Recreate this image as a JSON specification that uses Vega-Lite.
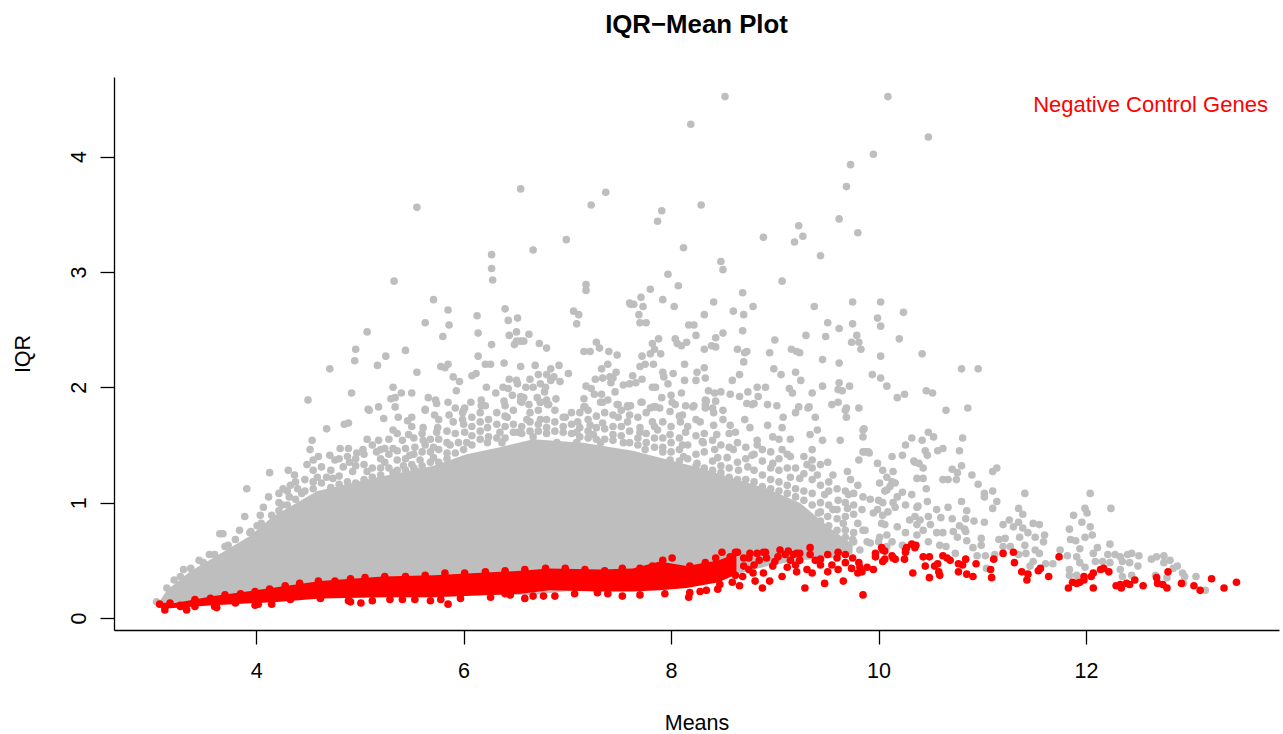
{"$schema":"https://vega.github.io/schema/vega-lite/v6.json","width":1165,"height":553,"autosize":{"type":"none"},"padding":{"left":114,"top":77,"right":4,"bottom":104},"background":"white","config":{"view":{"stroke":null},"font":"Liberation Sans"},
"title":{"text":"IQR−Mean Plot","font":"Liberation Sans","fontWeight":"bold","fontSize":25.8,"color":"black","anchor":"middle","frame":"group","offset":38},
"encoding":{"x":{"field":"x","type":"quantitative","title":"Means","scale":{"domain":[2.63,13.86],"nice":false,"zero":false},"axis":{"values":[4,6,8,10,12],"grid":false,"tickSize":14,"tickColor":"black","domainColor":"black","domainWidth":1.3,"tickWidth":1.3,"labelFontSize":21.5,"labelColor":"black","labelFont":"Liberation Sans","labelPadding":16,"titleFontSize":21.5,"titleFontWeight":"normal","titleColor":"black","titleFont":"Liberation Sans","titlePadding":31}},"y":{"field":"y","type":"quantitative","title":"IQR","scale":{"domain":[-0.104,4.69],"nice":false,"zero":false},"axis":{"values":[0,1,2,3,4],"grid":false,"tickSize":14,"tickColor":"black","domainColor":"black","domainWidth":1.3,"tickWidth":1.3,"labelFontSize":21.5,"labelColor":"black","labelFont":"Liberation Sans","labelAngle":-90,"labelAlign":"center","labelBaseline":"bottom","labelPadding":10,"titleFontSize":21.5,"titleFontWeight":"normal","titleColor":"black","titleFont":"Liberation Sans","titlePadding":34}}},
"layer":[
{"data":{"values":[{"x":3.05,"hi":0.12,"lo":0.1},{"x":3.14,"hi":0.24,"lo":0.1},{"x":3.36,"hi":0.4,"lo":0.1},{"x":3.62,"hi":0.54,"lo":0.13},{"x":3.94,"hi":0.71,"lo":0.15},{"x":4.16,"hi":0.88,"lo":0.16},{"x":4.59,"hi":1.1,"lo":0.17},{"x":5.07,"hi":1.2,"lo":0.18},{"x":5.71,"hi":1.32,"lo":0.18},{"x":6.03,"hi":1.42,"lo":0.2},{"x":6.35,"hi":1.48,"lo":0.2},{"x":6.67,"hi":1.55,"lo":0.2},{"x":7.15,"hi":1.52,"lo":0.25},{"x":7.63,"hi":1.45,"lo":0.25},{"x":8.28,"hi":1.3,"lo":0.3},{"x":8.93,"hi":1.12,"lo":0.45},{"x":9.24,"hi":1,"lo":0.5},{"x":9.56,"hi":0.76,"lo":0.52},{"x":9.75,"hi":0.64,"lo":0.56}]},"mark":{"type":"area","color":"#BEBEBE"},"encoding":{"y":{"field":"hi","type":"quantitative"},"y2":{"field":"lo"}}},
{"data":{"values":[{"x":8.52,"y":4.52},{"x":10.09,"y":4.52},{"x":10.48,"y":4.17},{"x":9.95,"y":4.02},{"x":9.73,"y":3.93},{"x":9.69,"y":3.74},{"x":9.62,"y":3.46},{"x":9.8,"y":3.34},{"x":9.23,"y":3.4},{"x":9.27,"y":3.31},{"x":9.19,"y":3.26},{"x":9.44,"y":3.14},{"x":8.89,"y":3.3},{"x":8.48,"y":3.09},{"x":8.5,"y":3.02},{"x":9.07,"y":2.92},{"x":8.69,"y":2.82},{"x":8.41,"y":2.74},{"x":8.6,"y":2.66},{"x":8.79,"y":2.7},{"x":8.32,"y":2.63},{"x":8.7,"y":2.63},{"x":9.38,"y":2.7},{"x":9.75,"y":2.74},{"x":10.02,"y":2.74},{"x":10.24,"y":2.65},{"x":9.99,"y":2.6},{"x":10.02,"y":2.53},{"x":9.51,"y":2.56},{"x":9.62,"y":2.51},{"x":9.75,"y":2.55},{"x":8.69,"y":2.49},{"x":8.5,"y":2.47},{"x":8.43,"y":2.43},{"x":9,"y":2.41},{"x":9.3,"y":2.45},{"x":9.49,"y":2.44},{"x":9.79,"y":2.45},{"x":10.2,"y":2.42},{"x":9.74,"y":2.39},{"x":9.81,"y":2.39},{"x":9.83,"y":2.33},{"x":10.02,"y":2.27},{"x":10.42,"y":2.29},{"x":10.8,"y":2.16},{"x":10.96,"y":2.16},{"x":9.94,"y":2.11},{"x":10.02,"y":2.08},{"x":10.08,"y":2.01},{"x":10.18,"y":1.91},{"x":10.25,"y":1.94},{"x":10.46,"y":1.97},{"x":10.52,"y":1.95},{"x":9.46,"y":2.24},{"x":9.62,"y":2.21},{"x":8.99,"y":2.16},{"x":9.06,"y":2.11},{"x":9.2,"y":2.13},{"x":9.25,"y":2.06},{"x":8.66,"y":2.11},{"x":8.59,"y":2.06},{"x":8.95,"y":2.3},{"x":9.16,"y":2.33},{"x":9.21,"y":2.31},{"x":9.24,"y":2.3},{"x":8.7,"y":2.22},{"x":8.64,"y":2.33},{"x":8.71,"y":2.3},{"x":8.73,"y":2.31},{"x":8.32,"y":2.33},{"x":8.39,"y":2.36},{"x":8.43,"y":2.35},{"x":8.32,"y":2.17},{"x":8.33,"y":2.08},{"x":9.62,"y":2.04},{"x":9.61,"y":1.98},{"x":9.65,"y":1.97},{"x":9.72,"y":2.01},{"x":9.46,"y":2.01},{"x":9.36,"y":1.95},{"x":9.14,"y":1.99},{"x":9.17,"y":1.95},{"x":8.91,"y":2},{"x":8.83,"y":2},{"x":8.74,"y":1.96},{"x":8.84,"y":1.92},{"x":8.66,"y":1.92},{"x":8.57,"y":1.94},{"x":8.48,"y":1.96},{"x":8.36,"y":1.97},{"x":8.34,"y":1.88},{"x":8.43,"y":1.88},{"x":8.73,"y":1.86},{"x":8.8,"y":1.86},{"x":8.93,"y":1.85},{"x":9.02,"y":1.84},{"x":9.23,"y":1.83},{"x":9.33,"y":1.83},{"x":9.55,"y":1.85},{"x":9.61,"y":1.87},{"x":9.69,"y":1.82},{"x":9.81,"y":1.82},{"x":10.65,"y":1.8},{"x":10.86,"y":1.82},
{"x":8.19,"y":4.28},{"x":6.55,"y":3.72},{"x":7.37,"y":3.69},{"x":7.23,"y":3.58},{"x":8.29,"y":3.58},{"x":5.55,"y":3.56},{"x":7.91,"y":3.53},{"x":7.87,"y":3.44},{"x":6.99,"y":3.28},{"x":6.67,"y":3.19},{"x":8.12,"y":3.21},{"x":6.27,"y":3.15},{"x":6.27,"y":3.03},{"x":6.28,"y":2.93},{"x":5.33,"y":2.92},{"x":7.97,"y":2.98},{"x":8.07,"y":2.88},{"x":7.18,"y":2.89},{"x":7.18,"y":2.84},{"x":7.8,"y":2.85},{"x":5.71,"y":2.76},{"x":7.71,"y":2.78},{"x":7.6,"y":2.73},{"x":7.61,"y":2.72},{"x":7.64,"y":2.72},{"x":7.73,"y":2.7},{"x":7.92,"y":2.76},{"x":8.03,"y":2.7},{"x":5.85,"y":2.67},{"x":6.4,"y":2.68},{"x":7.06,"y":2.66},{"x":7.11,"y":2.63},{"x":6.13,"y":2.62},{"x":6.52,"y":2.6},{"x":6.43,"y":2.58},{"x":5.63,"y":2.56},{"x":5.86,"y":2.54},{"x":7.09,"y":2.55},{"x":7.69,"y":2.63},{"x":7.7,"y":2.56},{"x":7.76,"y":2.56},{"x":8.17,"y":2.54},{"x":8.22,"y":2.54},{"x":5.07,"y":2.48},{"x":6.14,"y":2.47},{"x":6.51,"y":2.48},{"x":6.63,"y":2.46},{"x":5.8,"y":2.44},{"x":6.44,"y":2.45},{"x":8.24,"y":2.45},{"x":4.96,"y":2.33},{"x":4.95,"y":2.23},{"x":4.71,"y":2.16},{"x":5.25,"y":2.27},{"x":5.17,"y":2.19},{"x":5.44,"y":2.32},{"x":5.55,"y":2.13},{"x":5.78,"y":2.18},{"x":5.85,"y":2.2},{"x":5.82,"y":2.17},{"x":5.9,"y":2.09},{"x":5.96,"y":2.05},{"x":5.93,"y":1.97},{"x":6.14,"y":2.27},{"x":6.27,"y":2.37},{"x":6.49,"y":2.37},{"x":6.51,"y":2.4},{"x":6.55,"y":2.4},{"x":6.58,"y":2.4},{"x":6.73,"y":2.38},{"x":6.8,"y":2.34},{"x":6.21,"y":2.2},{"x":6.26,"y":2.2},{"x":6.39,"y":2.21},{"x":6.55,"y":2.18},{"x":6.69,"y":2.19},{"x":6.84,"y":2.16},{"x":6.92,"y":2.19},{"x":7.01,"y":2.12},{"x":6.08,"y":2.1},{"x":6.12,"y":2.12},{"x":6.22,"y":2},{"x":6.44,"y":2.07},{"x":6.51,"y":2.06},{"x":6.52,"y":2.03},{"x":6.64,"y":2.07},{"x":6.72,"y":2.11},{"x":6.74,"y":2.03},{"x":6.8,"y":2.11},{"x":6.87,"y":2.09},{"x":6.84,"y":2.06},{"x":6.93,"y":2.05},{"x":6.38,"y":2},{"x":6.43,"y":1.99},{"x":6.6,"y":2},{"x":6.67,"y":2},{"x":6.79,"y":2},{"x":6.78,"y":1.96},{"x":6.31,"y":1.95},{"x":6.47,"y":1.93},{"x":6.55,"y":1.92},{"x":6.58,"y":1.91},{"x":6.55,"y":1.88},{"x":6.71,"y":1.91},{"x":6.8,"y":1.89},{"x":6.74,"y":1.87},{"x":6.89,"y":1.9},{"x":6.82,"y":1.85},{"x":6.63,"y":1.85},{"x":6.39,"y":1.88},{"x":6.4,"y":1.84},{"x":6.17,"y":1.89},{"x":6.07,"y":1.87},{"x":6.17,"y":1.84},{"x":6.21,"y":1.84},{"x":5.85,"y":1.87},{"x":5.73,"y":1.89},{"x":5.66,"y":1.91},{"x":5.32,"y":2},{"x":4.92,"y":1.95},{"x":5.5,"y":1.95},{"x":5.4,"y":1.95},{"x":5.34,"y":1.91},{"x":5.3,"y":1.9},{"x":5.18,"y":1.83},{"x":5.34,"y":1.83},{"x":5.08,"y":1.81},{"x":5.63,"y":1.81},{"x":6.01,"y":1.82},{"x":4.5,"y":1.89},
{"x":7.16,"y":2.31},{"x":7.22,"y":2.31},{"x":7.28,"y":2.39},{"x":7.31,"y":2.34},{"x":7.4,"y":2.31},{"x":7.48,"y":2.28},{"x":7.82,"y":2.38},{"x":7.88,"y":2.42},{"x":7.84,"y":2.33},{"x":7.8,"y":2.29},{"x":7.9,"y":2.29},{"x":8.04,"y":2.42},{"x":8.06,"y":2.38},{"x":8.1,"y":2.36},{"x":8.15,"y":2.39},{"x":7.72,"y":2.27},{"x":7.75,"y":2.2},{"x":7.83,"y":2.2},{"x":7.7,"y":2.18},{"x":7.33,"y":2.16},{"x":7.39,"y":2.2},{"x":7.47,"y":2.13},{"x":7.27,"y":2.07},{"x":7.34,"y":2.08},{"x":7.41,"y":2.09},{"x":7.44,"y":2.08},{"x":7.42,"y":2.04},{"x":7.63,"y":2.1},{"x":7.72,"y":2.07},{"x":7.6,"y":2.03},{"x":7.66,"y":2.04},{"x":7.54,"y":2.02},{"x":7.92,"y":2.13},{"x":7.93,"y":2.09},{"x":8.02,"y":2.12},{"x":7.97,"y":2.03},{"x":7.82,"y":2},{"x":7.85,"y":2},{"x":8.13,"y":2.2},{"x":8.25,"y":2.13},{"x":8.24,"y":2.06},{"x":8.13,"y":2.06},{"x":8.1,"y":1.95},{"x":7.18,"y":2.01},{"x":7.23,"y":1.99},{"x":7.26,"y":1.94},{"x":7.16,"y":1.9},{"x":7.16,"y":1.83},{"x":7.33,"y":1.94},{"x":7.46,"y":1.96},{"x":7.39,"y":1.89},{"x":7.32,"y":1.87},{"x":7.49,"y":1.85},{"x":7.58,"y":1.84},{"x":7.61,"y":1.84},{"x":7.71,"y":1.87},{"x":7.91,"y":1.91},{"x":8,"y":1.93},{"x":8.01,"y":1.87},{"x":8.04,"y":1.85},{"x":8.14,"y":1.84},{"x":8.22,"y":1.84},{"x":8.33,"y":1.82},{"x":8.33,"y":1.89},{"x":8.4,"y":1.82},{"x":8.42,"y":1.95},{"x":7.8,"y":1.82},{"x":7.85,"y":1.83},{"x":7.89,"y":1.82},
{"x":5.09,"y":1.8},{"x":5.23,"y":1.73},{"x":4.68,"y":1.64},{"x":4.85,"y":1.68},{"x":4.89,"y":1.69},{"x":5.32,"y":1.63},{"x":5.37,"y":1.74},{"x":5.5,"y":1.74},{"x":5.46,"y":1.71},{"x":5.5,"y":1.66},{"x":5.47,"y":1.59},{"x":5.41,"y":1.54},{"x":4.54,"y":1.54},{"x":4.52,"y":1.46},{"x":5.07,"y":1.55},{"x":5.18,"y":1.54},{"x":5.16,"y":1.44},{"x":5.24,"y":1.47},{"x":5.32,"y":1.47},{"x":4.81,"y":1.47},{"x":4.89,"y":1.47},{"x":5.03,"y":1.46},{"x":4.97,"y":1.43},{"x":4.6,"y":1.4},{"x":4.55,"y":1.37},{"x":4.49,"y":1.33},{"x":4.71,"y":1.41},{"x":4.76,"y":1.37},{"x":4.9,"y":1.35},{"x":4.84,"y":1.31},{"x":4.13,"y":1.26},{"x":4.31,"y":1.28},{"x":4.37,"y":1.24},{"x":5.24,"y":1.35},{"x":5.36,"y":1.37},{"x":5.42,"y":1.32},{"x":5.5,"y":1.33},{"x":5.48,"y":1.41},{"x":5.58,"y":1.37},{"x":5.61,"y":1.54},{"x":5.53,"y":1.48},{"x":5.63,"y":1.5},{"x":5.71,"y":1.48},{"x":5.75,"y":1.65},{"x":5.61,"y":1.65},{"x":5.63,"y":1.8},{"x":5.72,"y":1.76},{"x":5.86,"y":1.76},{"x":5.9,"y":1.7},{"x":5.74,"y":1.86},{"x":5.99,"y":1.78},{"x":6,"y":1.8},{"x":5.99,"y":1.72},{"x":6.16,"y":1.78},{"x":6.08,"y":1.66},{"x":6.01,"y":1.61},{"x":6.23,"y":1.65},{"x":6.32,"y":1.78},{"x":6.42,"y":1.74},{"x":6.35,"y":1.61},{"x":6.48,"y":1.61},{"x":5.74,"y":1.61},{"x":5.95,"y":1.52},{"x":6.03,"y":1.52},{"x":6.23,"y":1.52},{"x":6.37,"y":1.52},{"x":5.87,"y":1.5},{"x":5.84,"y":1.43},{"x":5.71,"y":1.39},{"x":5.63,"y":1.26},{"x":6.28,"y":1.43},{"x":5.55,"y":1.27},{"x":5.32,"y":1.26},{"x":5.2,"y":1.24},{"x":5.07,"y":1.27},{"x":4.93,"y":1.27},{"x":4.74,"y":1.21},{"x":4.59,"y":1.22},{"x":4.68,"y":1.22},{"x":4.55,"y":1.18},{"x":4.33,"y":1.15},{"x":4.4,"y":1.12},{"x":4.26,"y":1.12},{"x":4.12,"y":1.05},{"x":4.32,"y":1.05},{"x":3.91,"y":1.12},{"x":4.07,"y":0.96},{"x":4.25,"y":0.98},{"x":4.44,"y":1.08},{"x":4.42,"y":0.95},{"x":3.89,"y":0.88},{"x":4.15,"y":0.89},{"x":4.04,"y":0.89},{"x":3.84,"y":0.76},{"x":3.65,"y":0.73},{"x":3.68,"y":0.73},{"x":3.73,"y":0.63},{"x":4.01,"y":0.8},{"x":3.94,"y":0.74},{"x":3.6,"y":0.55},{"x":3.49,"y":0.48},{"x":3.37,"y":0.43},{"x":3.27,"y":0.36},{"x":3.21,"y":0.33},{"x":3.14,"y":0.26},{"x":3.04,"y":0.14},
{"x":6.56,"y":1.87},{"x":6.74,"y":1.87},{"x":6.81,"y":1.85},{"x":7.17,"y":1.83},{"x":7.34,"y":1.87},{"x":7.48,"y":1.85},{"x":7.58,"y":1.83},{"x":7.72,"y":1.87},{"x":7.83,"y":1.83},{"x":7.99,"y":1.79},{"x":8.11,"y":1.76},{"x":8.21,"y":1.83},{"x":8.33,"y":1.85},{"x":8.41,"y":1.78},{"x":8.5,"y":1.8},{"x":8.57,"y":1.67},{"x":8.71,"y":1.72},{"x":8.78,"y":1.85},{"x":9.08,"y":1.74},{"x":9.2,"y":1.78},{"x":9.32,"y":1.82},{"x":9.39,"y":1.74},{"x":9.68,"y":1.8},{"x":9.69,"y":1.74},{"x":6.61,"y":1.72},{"x":6.74,"y":1.72},{"x":6.98,"y":1.74},{"x":7.1,"y":1.7},{"x":7.22,"y":1.67},{"x":7.34,"y":1.69},{"x":7.49,"y":1.74},{"x":7.58,"y":1.7},{"x":7.7,"y":1.65},{"x":7.82,"y":1.7},{"x":7.92,"y":1.7},{"x":8.09,"y":1.7},{"x":8.28,"y":1.7},{"x":8.41,"y":1.67},{"x":8.5,"y":1.72},{"x":8.76,"y":1.65},{"x":8.93,"y":1.67},{"x":9.07,"y":1.65},{"x":9.85,"y":1.63},{"x":9.85,"y":1.57},{"x":9.41,"y":1.63},{"x":9.34,"y":1.59},{"x":9.46,"y":1.54},{"x":9.15,"y":1.55},{"x":9.63,"y":1.54},{"x":6.52,"y":1.61},{"x":6.67,"y":1.57},{"x":6.8,"y":1.65},{"x":6.96,"y":1.61},{"x":7.09,"y":1.61},{"x":7.25,"y":1.59},{"x":7.44,"y":1.59},{"x":7.7,"y":1.61},{"x":7.87,"y":1.63},{"x":7.99,"y":1.59},{"x":8.14,"y":1.61},{"x":8.3,"y":1.53},{"x":8.44,"y":1.59},{"x":8.62,"y":1.61},{"x":8.83,"y":1.54},{"x":8.98,"y":1.57},{"x":9.07,"y":1.46},{"x":9.36,"y":1.46},{"x":6.9,"y":1.52},{"x":7.09,"y":1.52},{"x":7.32,"y":1.52},{"x":7.54,"y":1.52},{"x":7.75,"y":1.46},{"x":7.92,"y":1.48},{"x":8.11,"y":1.5},{"x":8.31,"y":1.52},{"x":8.42,"y":1.46},{"x":8.6,"y":1.46},{"x":8.78,"y":1.41},{"x":8.83,"y":1.5},{"x":9.15,"y":1.4},{"x":8.98,"y":1.34},{"x":8.74,"y":1.31},{"x":8.65,"y":1.28},{"x":8.54,"y":1.39},{"x":8.45,"y":1.39},{"x":7.99,"y":1.37},{"x":8.12,"y":1.4},{"x":8.25,"y":1.34},{"x":9.31,"y":1.33},{"x":9.36,"y":1.37},{"x":9.51,"y":1.35},{"x":9.44,"y":1.33},{"x":9.7,"y":1.27},{"x":9.15,"y":1.22},{"x":9.24,"y":1.21},{"x":9.41,"y":1.24},{"x":9.56,"y":1.24},{"x":9.73,"y":1.2},{"x":9.8,"y":1.15},{"x":9.99,"y":1.34},{"x":10.13,"y":1.4},{"x":10.23,"y":1.41},{"x":10.35,"y":1.35},{"x":10.26,"y":1.5},{"x":10.32,"y":1.56},{"x":9.9,"y":1.44},{"x":9.85,"y":1.44},{"x":9.81,"y":1.37},{"x":10.04,"y":1.28},{"x":10.14,"y":1.27},{"x":10.08,"y":1.22},{"x":10.01,"y":1.17},{"x":10.13,"y":1.18},{"x":10.08,"y":1.11},{"x":10.23,"y":1.09},{"x":10.32,"y":1.07},{"x":10.37,"y":1.21},{"x":10.18,"y":1.05},{"x":10,"y":1.02},{"x":9.85,"y":1.05},{"x":9.71,"y":1.07},{"x":9.61,"y":1.02},{"x":9.48,"y":1.07},{"x":9.44,"y":1},{"x":9.56,"y":0.94},{"x":9.7,"y":0.95},{"x":9.84,"y":0.94},{"x":9.99,"y":0.94},{"x":10.14,"y":1},{"x":10.26,"y":0.98},{"x":10.37,"y":0.96},{"x":9.42,"y":0.91},{"x":9.51,"y":0.88},{"x":9.66,"y":0.82},{"x":9.8,"y":0.82},{"x":9.95,"y":0.91},{"x":10.03,"y":0.82},{"x":10.18,"y":0.79},{"x":10.3,"y":0.85},{"x":10.37,"y":0.81},{"x":9.75,"y":0.68},{"x":9.85,"y":0.76},{"x":10.01,"y":0.7},{"x":10.26,"y":0.74},{"x":9.92,"y":0.65},{"x":9.82,"y":0.59},{"x":10.08,"y":0.62},
{"x":9.86,"y":1.64},{"x":10.48,"y":1.61},{"x":10.53,"y":1.57},{"x":10.42,"y":1.54},{"x":10.81,"y":1.56},{"x":9.87,"y":1.44},{"x":9.91,"y":1.43},{"x":10.45,"y":1.45},{"x":10.47,"y":1.41},{"x":10.57,"y":1.45},{"x":10.62,"y":1.47},{"x":10.78,"y":1.45},{"x":10.34,"y":1.36},{"x":10.39,"y":1.34},{"x":10.43,"y":1.3},{"x":10.8,"y":1.32},{"x":11.14,"y":1.3},{"x":11.1,"y":1.27},{"x":10.71,"y":1.29},{"x":10.76,"y":1.26},{"x":10.9,"y":1.24},{"x":10.75,"y":1.2},{"x":10.67,"y":1.2},{"x":10.62,"y":1.2},{"x":10.43,"y":1.21},{"x":10.16,"y":1.17},{"x":10.11,"y":1.14},{"x":10.06,"y":1.1},{"x":10.46,"y":1.12},{"x":10.96,"y":1.16},{"x":11.02,"y":1.08},{"x":11.02,"y":1.05},{"x":11.1,"y":1.1},{"x":11.14,"y":1.01},{"x":10.8,"y":1.01},{"x":10.47,"y":1.01},{"x":10.38,"y":0.97},{"x":9.92,"y":1.03},{"x":10.04,"y":1},{"x":10.16,"y":0.96},{"x":10.09,"y":0.92},{"x":11.1,"y":0.95},{"x":10.67,"y":0.96},{"x":10.85,"y":0.93},{"x":10.56,"y":0.94},{"x":10.48,"y":0.88},{"x":10.6,"y":0.87},{"x":10.35,"y":0.88},{"x":10.71,"y":0.86},{"x":10.84,"y":0.86},{"x":10.92,"y":0.84},{"x":11.02,"y":0.83},{"x":10.4,"y":0.85},{"x":10.5,"y":0.81},{"x":10.78,"y":0.8},{"x":10.83,"y":0.77},{"x":10.04,"y":0.89},{"x":10.06,"y":0.81},{"x":9.87,"y":0.76},{"x":10.08,"y":0.72},{"x":10.37,"y":0.72},{"x":10.43,"y":0.76},{"x":10.56,"y":0.74},{"x":10.62,"y":0.74},{"x":10.72,"y":0.75},{"x":10.76,"y":0.7},{"x":10.84,"y":0.75},{"x":10.85,"y":0.67},{"x":10.99,"y":0.69},{"x":10.99,"y":0.63},{"x":10.91,"y":0.61},{"x":10.59,"y":0.63},{"x":10.65,"y":0.62},{"x":10.48,"y":0.66},{"x":9.89,"y":0.66},{"x":10,"y":0.66},{"x":10.13,"y":0.66},{"x":10.23,"y":0.63},{"x":10.74,"y":0.56},{"x":10.95,"y":0.54},{"x":11.03,"y":0.54},{"x":11.12,"y":0.55},{"x":11.16,"y":0.68},{"x":11.22,"y":0.69},{"x":11.2,"y":0.62},{"x":11.27,"y":0.62},{"x":11.35,"y":0.95},{"x":11.39,"y":0.9},{"x":11.41,"y":1.08},{"x":11.35,"y":0.83},{"x":11.26,"y":0.85},{"x":11.2,"y":0.81},{"x":11.3,"y":0.79},{"x":11.39,"y":0.78},{"x":11.49,"y":0.82},{"x":11.55,"y":0.81},{"x":11.44,"y":0.74},{"x":11.36,"y":0.7},{"x":11.51,"y":0.7},{"x":11.6,"y":0.72},{"x":11.59,"y":0.66},{"x":11.41,"y":0.63},{"x":11.42,"y":0.56},{"x":11.51,"y":0.59},{"x":11.35,"y":0.55},{"x":11.55,"y":0.56},{"x":11.49,"y":0.49},{"x":11.46,"y":0.45},{"x":11.61,"y":0.47},{"x":11.68,"y":0.47},{"x":11.75,"y":0.59},{"x":11.82,"y":0.54},{"x":11.04,"y":0.43},{"x":11.84,"y":0.77},{"x":11.88,"y":0.89},{"x":11.99,"y":0.95},{"x":12.01,"y":0.91},{"x":12.04,"y":1.08},{"x":11.96,"y":0.83},{"x":12.24,"y":0.95},{"x":12.04,"y":0.79},{"x":12.06,"y":0.72},{"x":11.99,"y":0.7},{"x":11.85,"y":0.68},{"x":11.9,"y":0.67},{"x":11.94,"y":0.6},{"x":12.11,"y":0.61},{"x":12.07,"y":0.56},{"x":12.23,"y":0.64},{"x":11.91,"y":0.53},{"x":11.94,"y":0.48},{"x":11.99,"y":0.44},{"x":11.84,"y":0.42},{"x":11.84,"y":0.37},{"x":11.91,"y":0.37},{"x":12.09,"y":0.49},{"x":12.16,"y":0.49},{"x":12.21,"y":0.55},{"x":12.28,"y":0.55},{"x":12.33,"y":0.53},{"x":12.4,"y":0.55},{"x":12.44,"y":0.56},{"x":12.51,"y":0.54},{"x":12.23,"y":0.48},{"x":12.35,"y":0.49},{"x":12.42,"y":0.48},{"x":12.5,"y":0.45},{"x":12.33,"y":0.42},{"x":12.35,"y":0.36},{"x":12.44,"y":0.37},{"x":12.63,"y":0.51},{"x":12.68,"y":0.53},{"x":12.75,"y":0.54},{"x":12.81,"y":0.5},{"x":12.75,"y":0.48},{"x":12.88,"y":0.45},{"x":12.84,"y":0.43},{"x":12.67,"y":0.37},{"x":12.78,"y":0.35},{"x":12.93,"y":0.39},{"x":12.95,"y":0.36},{"x":13.06,"y":0.36},{"x":12.94,"y":0.3},{"x":13.15,"y":0.24},
{"x":3.3,"y":0.42},{"x":3.45,"y":0.5},{"x":3.55,"y":0.55},{"x":3.7,"y":0.62},{"x":3.8,"y":0.68},{"x":3.95,"y":0.75},{"x":4.05,"y":0.82},{"x":4.22,"y":0.93},{"x":4.22,"y":1},{"x":4.22,"y":1.08},{"x":4.3,"y":0.98},{"x":4.3,"y":1.1},{"x":4.38,"y":1.03},{"x":4.38,"y":1.18},{"x":4.47,"y":1.1},{"x":4.47,"y":1.2},{"x":4.55,"y":1.12},{"x":4.55,"y":1.28},{"x":4.63,"y":1.17},{"x":4.63,"y":1.31},{"x":4.72,"y":1.13},{"x":4.72,"y":1.28},{"x":4.8,"y":1.16},{"x":4.8,"y":1.23},{"x":4.8,"y":1.38},{"x":4.88,"y":1.18},{"x":4.88,"y":1.4},{"x":4.96,"y":1.17},{"x":4.96,"y":1.32},{"x":4.96,"y":1.38},{"x":5.04,"y":1.2},{"x":5.04,"y":1.33},{"x":5.04,"y":1.42},{"x":5.12,"y":1.22},{"x":5.12,"y":1.3},{"x":5.12,"y":1.5},{"x":5.2,"y":1.3},{"x":5.2,"y":1.38},{"x":5.2,"y":1.46},{"x":5.28,"y":1.3},{"x":5.28,"y":1.42},{"x":5.28,"y":1.55},{"x":5.36,"y":1.28},{"x":5.36,"y":1.45},{"x":5.36,"y":1.6},{"x":5.44,"y":1.28},{"x":5.44,"y":1.38},{"x":5.44,"y":1.47},{"x":5.52,"y":1.3},{"x":5.52,"y":1.42},{"x":5.52,"y":1.56},{"x":5.6,"y":1.32},{"x":5.6,"y":1.44},{"x":5.6,"y":1.6},{"x":5.68,"y":1.35},{"x":5.68,"y":1.44},{"x":5.68,"y":1.55},{"x":5.76,"y":1.35},{"x":5.76,"y":1.46},{"x":5.76,"y":1.55},{"x":5.76,"y":1.72},{"x":5.84,"y":1.38},{"x":5.84,"y":1.52},{"x":5.84,"y":1.62},{"x":5.92,"y":1.43},{"x":5.92,"y":1.6},{"x":5.92,"y":1.82},{"x":6,"y":1.46},{"x":6,"y":1.68},{"x":6.08,"y":1.5},{"x":6.08,"y":1.58},{"x":6.08,"y":1.74},{"x":6.16,"y":1.55},{"x":6.16,"y":1.62},{"x":6.16,"y":1.7},{"x":6.24,"y":1.57},{"x":6.24,"y":1.72},{"x":6.32,"y":1.56},{"x":6.32,"y":1.68},{"x":6.4,"y":1.56},{"x":6.4,"y":1.66},{"x":6.4,"y":1.75},{"x":6.48,"y":1.68},{"x":6.48,"y":1.8},{"x":6.56,"y":1.6},{"x":6.56,"y":1.66},{"x":6.64,"y":1.62},{"x":6.64,"y":1.7},{"x":6.64,"y":1.78},{"x":6.72,"y":1.62},{"x":6.72,"y":1.68},{"x":6.72,"y":1.8},{"x":6.8,"y":1.6},{"x":6.8,"y":1.72},{"x":6.88,"y":1.62},{"x":6.88,"y":1.7},{"x":6.88,"y":1.8},{"x":6.96,"y":1.66},{"x":6.96,"y":1.74},{"x":7.04,"y":1.6},{"x":7.04,"y":1.68},{"x":7.04,"y":1.78},{"x":7.12,"y":1.57},{"x":7.12,"y":1.65},{"x":7.12,"y":1.78},{"x":7.2,"y":1.56},{"x":7.2,"y":1.62},{"x":7.2,"y":1.72},{"x":7.2,"y":1.8},{"x":7.28,"y":1.55},{"x":7.28,"y":1.65},{"x":7.28,"y":1.75},{"x":7.36,"y":1.55},{"x":7.36,"y":1.64},{"x":7.36,"y":1.78},{"x":7.44,"y":1.54},{"x":7.44,"y":1.66},{"x":7.44,"y":1.76},{"x":7.52,"y":1.58},{"x":7.52,"y":1.66},{"x":7.52,"y":1.8},{"x":7.6,"y":1.52},{"x":7.6,"y":1.62},{"x":7.6,"y":1.76},{"x":7.68,"y":1.5},{"x":7.68,"y":1.56},{"x":7.68,"y":1.74},{"x":7.76,"y":1.52},{"x":7.76,"y":1.6},{"x":7.76,"y":1.78},{"x":7.84,"y":1.48},{"x":7.84,"y":1.56},{"x":7.84,"y":1.66},{"x":7.92,"y":1.44},{"x":7.92,"y":1.56},{"x":8,"y":1.44},{"x":8,"y":1.52},{"x":8,"y":1.66},{"x":8.08,"y":1.36},{"x":8.08,"y":1.46},{"x":8.08,"y":1.56},{"x":8.08,"y":1.75},{"x":8.16,"y":1.38},{"x":8.16,"y":1.5},{"x":8.16,"y":1.66},{"x":8.24,"y":1.32},{"x":8.24,"y":1.42},{"x":8.24,"y":1.58},{"x":8.24,"y":1.72},{"x":8.32,"y":1.3},{"x":8.32,"y":1.44},{"x":8.32,"y":1.6},{"x":8.4,"y":1.28},{"x":8.4,"y":1.36},{"x":8.4,"y":1.54},{"x":8.48,"y":1.26},{"x":8.48,"y":1.32},{"x":8.48,"y":1.5},{"x":8.56,"y":1.22},{"x":8.56,"y":1.3},{"x":8.56,"y":1.48},{"x":8.56,"y":1.6},{"x":8.64,"y":1.2},{"x":8.64,"y":1.35},{"x":8.64,"y":1.52},{"x":8.72,"y":1.2},{"x":8.72,"y":1.38},{"x":8.72,"y":1.48},{"x":8.8,"y":1.18},{"x":8.8,"y":1.28},{"x":8.8,"y":1.42},{"x":8.88,"y":1.14},{"x":8.88,"y":1.24},{"x":8.88,"y":1.36},{"x":8.88,"y":1.46},{"x":8.96,"y":1.12},{"x":8.96,"y":1.2},{"x":8.96,"y":1.3},{"x":8.96,"y":1.44},{"x":9.04,"y":1.1},{"x":9.04,"y":1.18},{"x":9.04,"y":1.28},{"x":9.04,"y":1.38},{"x":9.04,"y":1.55},{"x":9.12,"y":1.08},{"x":9.12,"y":1.15},{"x":9.12,"y":1.3},{"x":9.12,"y":1.42},{"x":9.2,"y":1.05},{"x":9.2,"y":1.12},{"x":9.2,"y":1.3},{"x":9.28,"y":1.02},{"x":9.28,"y":1.1},{"x":9.28,"y":1.25},{"x":9.28,"y":1.4},{"x":9.36,"y":0.98},{"x":9.36,"y":1.08},{"x":9.36,"y":1.2},{"x":9.36,"y":1.3},{"x":9.44,"y":0.84},{"x":9.44,"y":0.92},{"x":9.44,"y":1.15},{"x":9.52,"y":0.8},{"x":9.52,"y":0.98},{"x":9.52,"y":1.1},{"x":9.52,"y":1.18},{"x":9.6,"y":0.76},{"x":9.6,"y":0.86},{"x":9.6,"y":0.94},{"x":9.6,"y":1.12},{"x":9.68,"y":0.7},{"x":9.68,"y":0.76},{"x":9.68,"y":0.88},{"x":9.68,"y":1},{"x":9.68,"y":1.1},{"x":9.76,"y":0.66},{"x":9.76,"y":0.74},{"x":9.76,"y":0.9},{"x":9.76,"y":0.98},{"x":9.76,"y":1.08}]},"mark":{"type":"point","filled":true,"size":58,"opacity":1,"color":"#BEBEBE","shape":"circle"}},
{"data":{"values":[{"x":3.1,"hi":0.11,"lo":0.08},{"x":3.59,"hi":0.19,"lo":0.11},{"x":4.23,"hi":0.27,"lo":0.14},{"x":4.62,"hi":0.32,"lo":0.17},{"x":5.22,"hi":0.36,"lo":0.18},{"x":5.71,"hi":0.37,"lo":0.18},{"x":6.55,"hi":0.41,"lo":0.21},{"x":6.83,"hi":0.43,"lo":0.24},{"x":7.32,"hi":0.42,"lo":0.23},{"x":7.63,"hi":0.43,"lo":0.23},{"x":7.89,"hi":0.49,"lo":0.24},{"x":8.15,"hi":0.45,"lo":0.26},{"x":8.46,"hi":0.5,"lo":0.31},{"x":8.63,"hi":0.56,"lo":0.38}]},"mark":{"type":"area","color":"#FF0000"},"encoding":{"y":{"field":"hi","type":"quantitative"},"y2":{"field":"lo"}}},
{"data":{"values":[{"x":9.85,"y":0.2},{"x":9.97,"y":0.56},{"x":9.97,"y":0.53},{"x":10.03,"y":0.61},{"x":10.06,"y":0.58},{"x":10.04,"y":0.49},{"x":10.06,"y":0.51},{"x":10.13,"y":0.54},{"x":10.16,"y":0.51},{"x":10.25,"y":0.51},{"x":10.26,"y":0.57},{"x":10.27,"y":0.61},{"x":10.32,"y":0.64},{"x":10.36,"y":0.63},{"x":10.35,"y":0.61},{"x":10.43,"y":0.53},{"x":10.49,"y":0.53},{"x":10.45,"y":0.45},{"x":10.54,"y":0.45},{"x":10.57,"y":0.47},{"x":10.33,"y":0.39},{"x":10.58,"y":0.4},{"x":10.59,"y":0.37},{"x":10.49,"y":0.35},{"x":10.62,"y":0.54},{"x":10.66,"y":0.52},{"x":10.69,"y":0.5},{"x":10.77,"y":0.47},{"x":10.81,"y":0.46},{"x":10.84,"y":0.51},{"x":10.94,"y":0.47},{"x":10.77,"y":0.4},{"x":10.85,"y":0.38},{"x":10.91,"y":0.36},{"x":11.08,"y":0.42},{"x":11.09,"y":0.35},{"x":11.11,"y":0.51},{"x":11.2,"y":0.56},{"x":11.3,"y":0.57},{"x":11.31,"y":0.48},{"x":11.38,"y":0.4},{"x":11.44,"y":0.38},{"x":11.43,"y":0.33},{"x":11.54,"y":0.41},{"x":11.56,"y":0.43},{"x":11.64,"y":0.36},{"x":11.74,"y":0.53},{"x":11.83,"y":0.26},{"x":11.87,"y":0.31},{"x":11.91,"y":0.3},{"x":11.94,"y":0.31},{"x":11.98,"y":0.36},{"x":11.98,"y":0.33},{"x":12.05,"y":0.36},{"x":12.07,"y":0.39},{"x":12.07,"y":0.26},{"x":12.14,"y":0.42},{"x":12.17,"y":0.43},{"x":12.22,"y":0.4},{"x":12.29,"y":0.28},{"x":12.33,"y":0.29},{"x":12.34,"y":0.26},{"x":12.39,"y":0.3},{"x":12.42,"y":0.29},{"x":12.47,"y":0.33},{"x":12.55,"y":0.28},{"x":12.68,"y":0.35},{"x":12.69,"y":0.3},{"x":12.74,"y":0.29},{"x":12.78,"y":0.26},{"x":12.79,"y":0.4},{"x":12.92,"y":0.3},{"x":13.04,"y":0.28},{"x":13.1,"y":0.24},{"x":13.21,"y":0.34},{"x":13.33,"y":0.26},{"x":13.45,"y":0.31},{"x":9.82,"y":0.44},{"x":9.89,"y":0.44},{"x":9.95,"y":0.42},{"x":9.84,"y":0.4},{"x":10.26,"y":0.59},{"x":10.14,"y":0.52},{"x":10.04,"y":0.59},{"x":9.8,"y":0.39},{"x":9.74,"y":0.43},{"x":9.75,"y":0.52},{"x":9.81,"y":0.48},{"x":9.66,"y":0.32},{"x":9.48,"y":0.3},{"x":9.61,"y":0.42},{"x":9.51,"y":0.4},{"x":9.29,"y":0.26},{"x":9.36,"y":0.39},{"x":9.61,"y":0.57},{"x":9.6,"y":0.52},{"x":9.51,"y":0.55},{"x":9.44,"y":0.51},{"x":9.34,"y":0.61},{"x":9.24,"y":0.56},{"x":9.18,"y":0.55},{"x":9.05,"y":0.59},{"x":8.89,"y":0.57},{"x":8.64,"y":0.57},{"x":8.57,"y":0.53},{"x":9.31,"y":0.42},{"x":9.21,"y":0.4},{"x":9.12,"y":0.44},{"x":9.07,"y":0.36},{"x":8.95,"y":0.32},{"x":8.88,"y":0.26},{"x":8.81,"y":0.32},{"x":8.79,"y":0.39},{"x":8.89,"y":0.39},{"x":8.69,"y":0.36},{"x":8.66,"y":0.28},{"x":8.59,"y":0.31},{"x":8.45,"y":0.25},{"x":8.28,"y":0.23},{"x":8.17,"y":0.18},{"x":6.59,"y":0.17},{"x":6.67,"y":0.19},{"x":6.77,"y":0.19},{"x":6.45,"y":0.2},{"x":7.39,"y":0.21},{"x":7.29,"y":0.22},{"x":9.34,"y":0.55},{"x":9.39,"y":0.5},{"x":9.24,"y":0.5},{"x":9.2,"y":0.46},{"x":9.44,"y":0.46},{"x":9.68,"y":0.55},{"x":9.68,"y":0.48},{"x":9.55,"y":0.46},{"x":9.15,"y":0.5},{"x":9,"y":0.49},{"x":9.1,"y":0.55},{"x":4.91,"y":0.14},{"x":5.01,"y":0.13},{"x":5.41,"y":0.16},{"x":5.78,"y":0.16},{"x":5.85,"y":0.12},{"x":4.15,"y":0.12},{"x":3.99,"y":0.11},{"x":3.33,"y":0.07},{"x":3.12,"y":0.07},{"x":3.62,"y":0.09},
{"x":3.07,"y":0.12},{"x":3.12,"y":0.1},{"x":3.17,"y":0.13},{"x":3.27,"y":0.11},{"x":3.41,"y":0.16},{"x":3.56,"y":0.17},{"x":3.7,"y":0.2},{"x":3.85,"y":0.21},{"x":3.99,"y":0.23},{"x":4.13,"y":0.25},{"x":4.28,"y":0.28},{"x":4.42,"y":0.3},{"x":4.6,"y":0.32},{"x":4.76,"y":0.32},{"x":4.91,"y":0.34},{"x":5.05,"y":0.35},{"x":5.24,"y":0.36},{"x":5.44,"y":0.36},{"x":5.63,"y":0.37},{"x":5.82,"y":0.39},{"x":6.01,"y":0.39},{"x":6.21,"y":0.4},{"x":6.4,"y":0.41},{"x":6.59,"y":0.42},{"x":6.79,"y":0.43},{"x":6.98,"y":0.43},{"x":7.17,"y":0.42},{"x":7.36,"y":0.41},{"x":7.53,"y":0.43},{"x":7.7,"y":0.43},{"x":7.82,"y":0.45},{"x":7.92,"y":0.5},{"x":8.01,"y":0.52},{"x":8.18,"y":0.45},{"x":8.33,"y":0.48},{"x":8.43,"y":0.52},{"x":8.49,"y":0.57},{"x":8.62,"y":0.57},{"x":8.76,"y":0.56},{"x":8.91,"y":0.57},{"x":9.13,"y":0.58},{"x":9.21,"y":0.56},{"x":3.27,"y":0.1},{"x":3.41,"y":0.1},{"x":3.6,"y":0.1},{"x":3.8,"y":0.13},{"x":4.02,"y":0.12},{"x":4.33,"y":0.16},{"x":4.62,"y":0.17},{"x":4.89,"y":0.15},{"x":5.12,"y":0.15},{"x":5.29,"y":0.16},{"x":5.53,"y":0.16},{"x":5.68,"y":0.15},{"x":5.97,"y":0.17},{"x":6.26,"y":0.18},{"x":6.4,"y":0.21},{"x":6.88,"y":0.19},{"x":7.07,"y":0.21},{"x":7.53,"y":0.19},{"x":7.7,"y":0.2},{"x":7.94,"y":0.21},{"x":8.18,"y":0.22},{"x":8.34,"y":0.24},{"x":8.47,"y":0.29},{"x":8.62,"y":0.37},{"x":8.75,"y":0.52},{"x":8.8,"y":0.46},{"x":8.85,"y":0.5},{"x":8.92,"y":0.52},{"x":8.98,"y":0.45},{"x":9.03,"y":0.53},{"x":8.83,"y":0.56},{"x":8.7,"y":0.45},{"x":8.75,"y":0.42},{"x":8.7,"y":0.52}]},"mark":{"type":"point","filled":true,"size":58,"opacity":1,"color":"#FF0000","shape":"circle"}},
{"data":{"values":[{"x":11.49,"y":4.45,"label":"Negative Control Genes"}]},"mark":{"type":"text","align":"left","baseline":"middle","color":"#FF0000","font":"Liberation Sans","fontSize":22},"encoding":{"text":{"field":"label"}}}
]}
